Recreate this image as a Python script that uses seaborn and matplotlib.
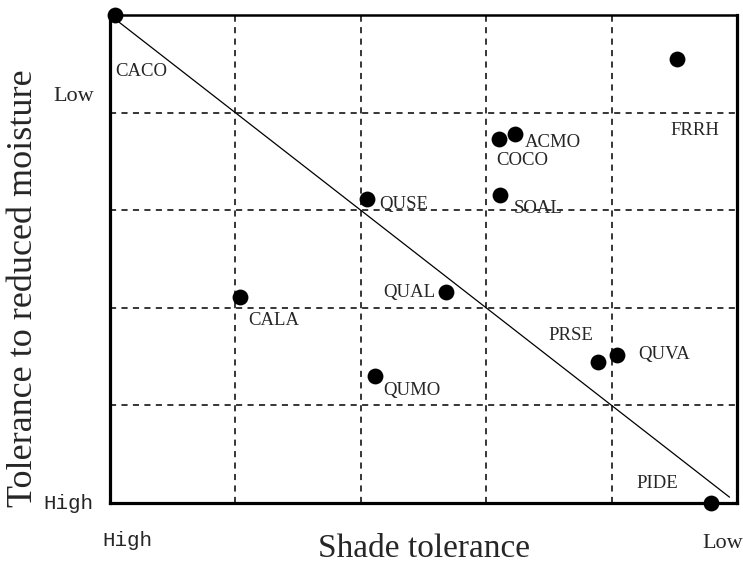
import matplotlib
import pandas as pd
import matplotlib.pyplot as plt
import seaborn as sns

matplotlib.use('Agg')

# species position (0 = high tolerance ... 5 = low tolerance)
species = ['CACO', 'FRRH', 'ACMO', 'COCO', 'SOAL', 'QUSE',
           'QUAL', 'CALA', 'QUMO', 'PRSE', 'QUVA', 'PIDE']
shade = [0.04, 4.52, 3.23, 3.10, 3.11, 2.05, 2.68, 1.04, 2.11, 3.89, 4.04, 4.79]
moisture = [5.0, 4.55, 3.78, 3.73, 3.16, 3.12, 2.16, 2.11, 1.30, 1.45, 1.52, 0.0]

# label anchors (left edge, vertical centre)
label_x = [0.04, 4.47, 3.31, 3.08, 3.22, 2.15, 2.18, 1.10, 2.18, 3.50, 4.21, 4.20]
label_y = [4.42, 3.82, 3.69, 3.51, 3.02, 3.06, 2.16, 1.875, 1.15, 1.72, 1.52, 0.205]

df = pd.DataFrame({'species': species, 'shade': shade, 'moisture': moisture})

sns.set_style('white')
plt.rcParams['font.family'] = ['Liberation Serif', 'DejaVu Serif']

fig = plt.figure(figsize=(7.43, 5.70), dpi=100)
ax = fig.add_axes([0.148, 0.1175, 0.844, 0.856])

# dashed reference grid
for v in range(1, 5):
    ax.axvline(v, color='black', lw=1.1, ls=(0, (4, 3.5)), zorder=1)
    ax.axhline(v, color='black', lw=1.1, ls=(0, (4, 3.5)), zorder=1)

# diagonal
ax.plot([0, 4.94], [5, 0.06], color='black', lw=0.9, zorder=2)

sns.scatterplot(data=df, x='shade', y='moisture', ax=ax, s=130,
                color='black', edgecolor='black', linewidth=0,
                clip_on=False, zorder=5, legend=False)

for name, lx, ly in zip(species, label_x, label_y):
    ax.text(lx, ly, name, fontsize=13.5, ha='left', va='center', zorder=6)

ax.set_xlim(0, 5)
ax.set_ylim(0, 5)
ax.set_xticks([])
ax.set_yticks([])
ax.set_xlabel('')
ax.set_ylabel('')
for side in ['left', 'bottom', 'right']:
    ax.spines[side].set_linewidth(2.3)
    ax.spines[side].set_color('black')
ax.spines['top'].set_linewidth(1.8)
ax.spines['top'].set_color('black')

# axis end labels
ax.text(-0.13, 4.17, 'Low', fontsize=16, ha='right', va='center')
ax.text(-0.13, 0.0, 'High', fontsize=15, family='Liberation Mono',
        ha='right', va='center')
ax.text(-0.06, -0.38, 'High', fontsize=15, family='Liberation Mono',
        ha='left', va='center')
ax.text(5.05, -0.41, 'Low', fontsize=16, ha='right', va='center')

fig.text(0.570, 0.038, 'Shade tolerance', fontsize=24, ha='center', va='center')
fig.text(0.032, 0.495, 'Tolerance to reduced moisture', fontsize=26,
         rotation=90, ha='center', va='center')

fig.savefig('out.png', dpi=100)
